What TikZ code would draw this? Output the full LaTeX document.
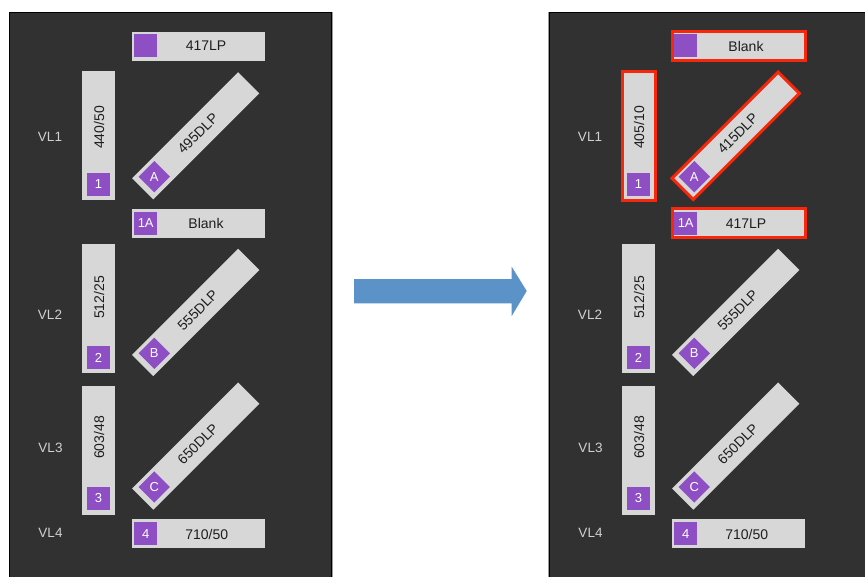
\documentclass[tikz,border=0pt]{standalone}
\usepackage{fontspec}
\setmainfont{Liberation Sans}
\usetikzlibrary{shapes.geometric}
\definecolor{panelgrey}{HTML}{313131}
\definecolor{boxgrey}{HTML}{D7D7D7}
\definecolor{filterpurple}{HTML}{8D4FC3}
\definecolor{labelgrey}{HTML}{D0D0D0}
\definecolor{textdark}{HTML}{1E1E1E}
\definecolor{hlred}{HTML}{F8260A}
\definecolor{arrowblue}{HTML}{5B93C9}
\definecolor{edgegrey}{HTML}{9A9A9A}
\tikzset{
  panelbg/.style={fill=panelgrey, draw=black, line width=1pt},
  hbox/.style={fill=boxgrey, minimum width=133pt, minimum height=29pt, inner sep=0pt},
  vbox/.style={fill=boxgrey, minimum width=33pt, minimum height=129pt, inner sep=0pt},
  dbox/.style={fill=boxgrey, rotate=45, minimum width=150pt, minimum height=30pt, inner sep=0pt,
    text=textdark, font=\fontsize{14}{16}\selectfont},
  psq/.style={fill=filterpurple, minimum size=23pt, inner sep=0pt, text=white,
    font=\fontsize{13}{14}\selectfont},
  pdia/.style={diamond, fill=filterpurple, minimum width=31.5pt, minimum height=31.5pt,
    inner sep=0pt, text=white, font=\fontsize{13}{14}\selectfont},
  lbl/.style={text=labelgrey, font=\fontsize{13.5}{15}\selectfont},
  txt/.style={text=textdark, font=\fontsize{14}{16}\selectfont, inner sep=0pt},
  hl/.style={draw=hlred, line width=3pt},
  nohl/.style={},
}
% #1 x-offset, #2 prefix, #3 top box text, #4 VL1 filter, #5 diagonal text, #6 1A text, #7 highlight style
\newcommand\lightpanel[7]{%
\begin{scope}[shift={(#1,0)}, name prefix=#2-]
  \node[hbox, #7] (top) at (198.5,46) {};
  \node[psq] (topsq) at (145.7,45.5) {};
  \node[txt] (toptxt) at (206,46) {#3};
  \node[vbox, #7] (v1) at (98.7,135.5) {};
  \node[psq] (v1sq) at (98.5,184.2) {1};
  \node[txt, rotate=90] (v1txt) at (99,127.5) {#4};
  \node[dbox, #7] (d1) at (195.7,135.8) {\raisebox{0pt}{\hspace{6pt}#5}};
  \node[pdia] (d1dia) at (154.3,176.7) {A};
  \node[hbox, #7] (h1a) at (198.5,223.3) {};
  \node[psq] (h1asq) at (145.7,223.3) {1A};
  \node[txt] (h1atxt) at (206,223.3) {#6};
  \node[lbl] (vl1) at (50,136.7) {VL1};
  \node[vbox] (v2) at (98.7,308.8) {};
  \node[psq] (v2sq) at (98.5,357.8) {2};
  \node[txt, rotate=90] (v2txt) at (99,297.5) {512/25};
  \node[dbox] (d2) at (195.7,312.4) {\hspace{6pt}555DLP};
  \node[pdia] (d2dia) at (154.3,353.3) {B};
  \node[lbl] (vl2) at (50,315) {VL2};
  \node[vbox] (v3) at (98.7,450) {};
  \node[psq] (v3sq) at (98.5,498.2) {3};
  \node[txt, rotate=90] (v3txt) at (99,437.5) {603/48};
  \node[dbox] (d3) at (195.7,446.1) {\hspace{6pt}650DLP};
  \node[pdia] (d3dia) at (154.3,487) {C};
  \node[lbl] (vl3) at (50.5,448.3) {VL3};
  \node[hbox] (h4) at (198.5,533.5) {};
  \node[psq] (h4sq) at (145.7,533.8) {4};
  \node[txt] (h4txt) at (206.7,534.3) {710/50};
  \node[lbl] (vl4) at (50.5,533.3) {VL4};
\end{scope}}
\begin{document}
\begin{tikzpicture}[x=1pt, y=-1pt]
  \useasboundingbox (0,0) rectangle (865,576);
  \fill[white] (0,0) rectangle (865,576);
  % panels
  \draw[panelbg] (9.5,12.5) rectangle (331.5,590);
  \draw[edgegrey, line width=1pt] (332.7,12) -- (332.7,590);
  \draw[panelbg] (549.5,12.5) rectangle (880,590);
  \draw[edgegrey, line width=1pt] (548.3,12) -- (548.3,590);
  \lightpanel{0}{L}{417LP}{440/50}{495DLP}{Blank}{nohl}
  \lightpanel{540}{R}{Blank}{405/10}{415DLP}{417LP}{hl}
  % big arrow
  \fill[arrowblue] (354,279.2) -- (511.7,279.2) -- (511.7,266.7) -- (526.7,291)
    -- (511.7,316) -- (511.7,303.3) -- (354,303.3) -- cycle;
\end{tikzpicture}
\end{document}
